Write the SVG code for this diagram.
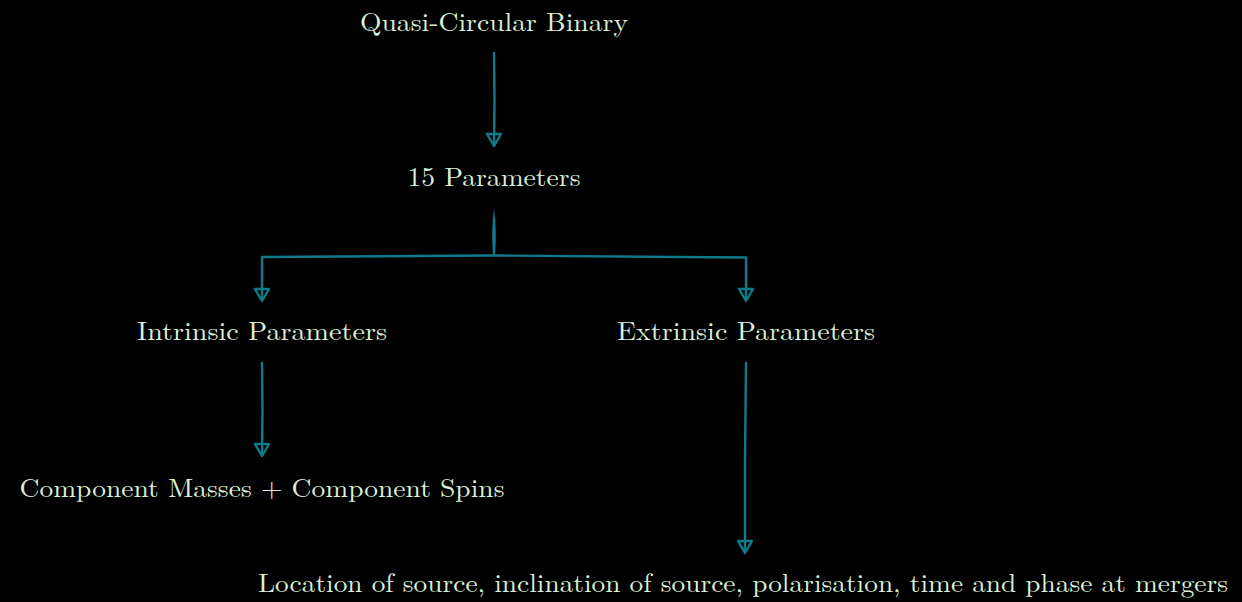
<svg xmlns="http://www.w3.org/2000/svg" width="1242" height="602" viewBox="0 0 1242 602">
<defs>
<style>
.t{font-family:"Latin Modern Roman","Liberation Serif","DejaVu Serif",serif;font-size:26px;fill:#dcefd8;text-anchor:middle}
.c{fill:none;stroke:#0f7b8a;stroke-width:2.4;stroke-linecap:round;stroke-linejoin:round}
</style>
</defs>
<rect width="1242" height="602" fill="#000"/>
<g id="connectors">
<path class="c" d="M494 53 L494.5 100 L494 146"/>
<path d="M487 134 L494 146 L501 134 Z" class="c"/>
<path d="M494 208 Q497 232 495 255 L493 255 Q491 232 494 208 Z" fill="#0f7b8a"/>
<path class="c" d="M262 300 L262 257 L494 255.5 L746 257.5 L746 300"/>
<path d="M255 289 L262 301 L269 289 Z" class="c"/>
<path d="M739 289 L746 301 L753 289 Z" class="c"/>
<path class="c" d="M262 363 L262.5 410 L262 456"/>
<path d="M255 444 L262 456 L269 444 Z" class="c"/>
<path class="c" d="M746 363 L745 460 L745 553"/>
<path d="M738 541 L745 553 L752 541 Z" class="c"/>
</g>
<g id="n1"><text class="t" x="494" y="31" textLength="268" lengthAdjust="spacingAndGlyphs">Quasi-Circular Binary</text></g>
<g id="n2"><text class="t" x="494" y="186" textLength="173" lengthAdjust="spacingAndGlyphs">15 Parameters</text></g>
<g id="n3"><text class="t" x="262" y="340" textLength="250" lengthAdjust="spacingAndGlyphs">Intrinsic Parameters</text></g>
<g id="n4"><text class="t" x="746" y="340" textLength="258" lengthAdjust="spacingAndGlyphs">Extrinsic Parameters</text></g>
<g id="n5"><text class="t" x="262" y="497" textLength="485" lengthAdjust="spacingAndGlyphs">Component Masses + Component Spins</text></g>
<g id="n6"><text class="t" x="743" y="592" textLength="970" lengthAdjust="spacingAndGlyphs">Location of source, inclination of source, polarisation, time and phase at mergers</text></g>
</svg>
